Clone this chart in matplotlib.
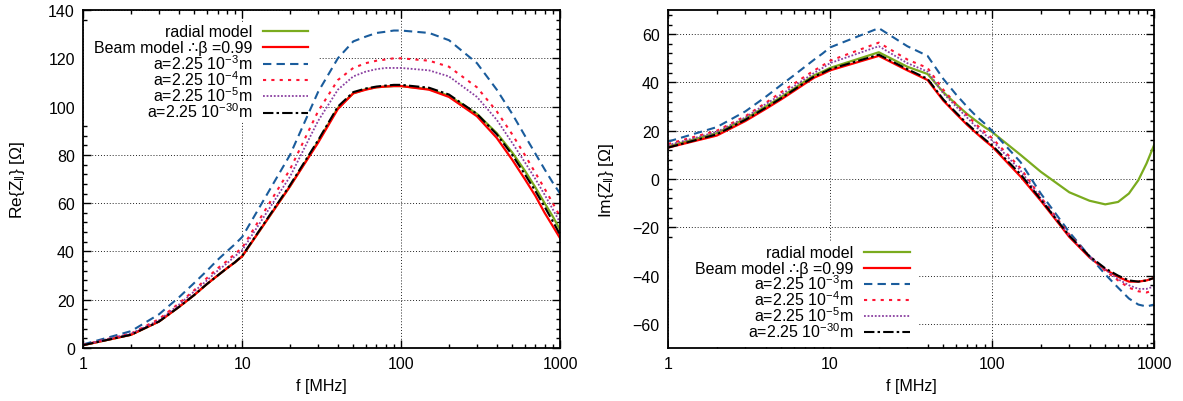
import numpy as np
import matplotlib
matplotlib.use('Agg')
import matplotlib.pyplot as plt
from matplotlib.patches import Rectangle
from matplotlib.ticker import MultipleLocator, FixedLocator, NullFormatter

plt.rcParams['font.family'] = ['Liberation Sans', 'DejaVu Sans']
plt.rcParams['mathtext.default'] = 'regular'
plt.rcParams['font.size'] = 11

# frequency points [MHz]
freq = [1, 2, 3, 4, 5, 6, 7, 8, 9, 10, 20, 30, 40, 50, 60, 70, 80, 90, 100, 150,
        200, 300, 400, 500, 600, 700, 800, 900, 1000]

# real part [Ohm]
re_radial = [1.2, 5.5, 11, 17, 22, 26.5, 30, 33, 35.5, 38, 67, 85.5, 99.5, 105.5, 107.2, 108, 108.3, 108.5, 108.5, 107.2,
             104.5, 97, 89, 81, 73.5, 66.5, 60, 54.5, 49]
re_beam = [1.2, 5.5, 11, 17, 22, 26.5, 30, 33, 35.5, 38, 67, 85, 99, 105.5, 107, 108, 108.3, 108.5, 108.5, 107,
           104, 96, 87, 78, 70, 63, 56, 50.5, 45.5]
re_a3 = [1.5, 7, 14, 21, 27, 32, 36.5, 40, 43, 46, 80, 106, 120, 127, 129, 130.5, 131, 131.5, 131.5, 130.5,
         127.5, 118, 107, 97, 88, 80.5, 74, 68.5, 64]
re_a4 = [1.3, 6, 12, 18.5, 24, 29, 33, 36, 39, 41.5, 74, 98, 111, 116, 118, 119, 119.5, 120, 120, 119,
         116.5, 108, 98, 88.5, 80, 72.5, 66, 60, 54.5]
re_a5 = [1.3, 6, 11.5, 18, 23.5, 28, 32, 35, 38, 40.5, 71, 94, 107, 112.5, 114.5, 115.5, 116, 116, 116, 115,
         112.5, 104, 94.5, 85, 77, 70, 63.5, 57.5, 52]
re_a30 = [1.2, 5.5, 11, 17, 22, 26.5, 30, 33, 35.5, 38.2, 67.5, 86, 100, 106, 107.5, 108.3, 108.7, 109, 109, 107.8,
          105, 97, 88.5, 80, 72, 65, 58.5, 52.5, 47]

# imaginary part [Ohm]
im_radial = [13.5, 19, 25, 30, 34, 37.5, 40.5, 43, 44.5, 46, 52.5, 46.5, 43.5, 36, 31, 27, 24, 21.5, 19.5, 10,
             3, -5.5, -9, -10.5, -9.5, -6, -0.5, 6.5, 14]
im_beam = [13, 18, 24, 29, 33, 36.5, 39.5, 42, 43.5, 45, 51, 45, 41, 32.5, 27, 22.5, 19, 16, 13.5, 1,
           -9, -24, -32.5, -37.5, -40.5, -42.5, -42.5, -42, -41]
im_a3 = [15.5, 21.5, 28, 34, 39, 43, 46.5, 49.5, 52, 54.5, 62.5, 55, 51, 41.5, 35, 30, 26, 23, 20, 7,
         -6, -22, -32, -39.5, -45, -49.5, -52, -52.8, -52]
im_a4 = [14.5, 20, 26, 31.5, 36, 39.5, 42.5, 45, 47, 49, 56.5, 49.5, 46, 37, 31, 26.5, 22.5, 19.5, 17, 4.5,
         -7.5, -23, -32, -38, -42, -45, -46.5, -47, -46]
im_a5 = [14, 19.5, 25.5, 31, 35, 38.5, 41.5, 44, 46, 48, 55, 48, 44.5, 35.5, 30, 25.5, 21.5, 18.5, 16, 3.5,
         -8, -23.5, -32, -37.5, -41.5, -44, -45.5, -45.5, -44.5]
im_a30 = [13, 18.5, 24.5, 29.5, 33.5, 37, 40, 42.5, 44, 45.5, 51.5, 45.5, 41.5, 33, 27.5, 23, 19.5, 16.5, 14, 2,
          -8.5, -23.5, -32, -37, -40, -42, -42.5, -42, -41]

labels = ['radial model', 'Beam model \u2234\u03b2 =0.99',
          'a=2.25 10$^{-3}$m', 'a=2.25 10$^{-4}$m', 'a=2.25 10$^{-5}$m', 'a=2.25 10$^{-30}$m']
styles = [
    dict(color='#7aab1e', lw=1.6, ls='-'),
    dict(color='#ff0000', lw=1.6, ls='-'),
    dict(color='#1a5c9c', lw=1.5, ls=(0, (4, 2.5))),
    dict(color='#ff1533', lw=1.5, ls=(0, (1.5, 2.5))),
    dict(color='#8a3fa0', lw=1.3, ls=(0, (1, 1))),
    dict(color='#000000', lw=1.5, ls=(0, (5, 1.5, 1.2, 1.5))),
]

W, H = 1183, 402
fig = plt.figure(figsize=(W / 100, H / 100), dpi=100)
ax1 = fig.add_axes([0.0704, 0.1318, 0.4030, 0.8408])
ax2 = fig.add_axes([0.5647, 0.1318, 0.4108, 0.8408])


def setup(ax, ylim, ylabel, labx):
    ax.set_xscale('log')
    ax.set_xlim(1, 1000)
    ax.set_ylim(*ylim)
    ax.set_axisbelow(True)
    ax.xaxis.set_major_locator(FixedLocator([1, 10, 100, 1000]))
    ax.set_xticklabels(['1', '10', '100', '1000'])
    ax.xaxis.set_minor_formatter(NullFormatter())
    ax.yaxis.set_major_locator(MultipleLocator(20))
    ax.yaxis.set_minor_locator(MultipleLocator(4))
    ax.tick_params(which='both', direction='in', top=True, right=True, labelsize=11.5, width=1)
    ax.tick_params(which='major', length=6, pad=6)
    ax.tick_params(which='minor', length=3)
    ax.grid(True, which='major', color='#222222', ls=(0, (1, 2)), lw=0.7)
    for s in ax.spines.values():
        s.set_linewidth(1.3)
    ax.set_xlabel('f [MHz]', fontsize=11.5, labelpad=5)
    ax.set_ylabel(ylabel, fontsize=12.5)
    ax.yaxis.set_label_coords(labx, 0.5)


def key(ax, x_text, x_h0, x_h1, y_first, dy, box):
    # gnuplot-like key: right aligned text, sample line on the right (pixel positions)
    to_ax = fig.transFigure + ax.transAxes.inverted()
    bx0, by0 = to_ax.transform((box[0] / W, 1 - box[3] / H))
    bx1, by1 = to_ax.transform((box[1] / W, 1 - box[2] / H))
    ax.add_patch(Rectangle((bx0, by0), bx1 - bx0, by1 - by0, transform=ax.transAxes,
                           facecolor='white', edgecolor='none', zorder=1.5, clip_on=False))
    for i, (lab, st) in enumerate(zip(labels, styles)):
        y = y_first + i * dy
        fig.text(x_text / W, 1 - (y + 5) / H, lab, ha='right', va='baseline', fontsize=11.5)
        fig.add_artist(plt.Line2D([x_h0 / W, x_h1 / W], [1 - y / H, 1 - y / H],
                                  transform=fig.transFigure, **st))


setup(ax1, (0, 140), r'Re{Z$_{\Vert}$} [$\Omega$]', -0.118)
setup(ax2, (-70, 70), r'Im{Z$_{\Vert}$} [$\Omega$]', -0.107)

for data, st in zip([re_radial, re_beam, re_a3, re_a4, re_a5, re_a30], styles):
    ax1.plot(freq, data, **st)
for data, st in zip([im_radial, im_beam, im_a3, im_a4, im_a5, im_a30], styles):
    ax2.plot(freq, data, **st)

key(ax1, 252, 263, 308, 32, 16.3, (84, 318, 23, 122))
key(ax2, 853, 864, 910, 252.7, 16.1, (669, 918, 243, 348))

fig.savefig('out.png', dpi=100)
